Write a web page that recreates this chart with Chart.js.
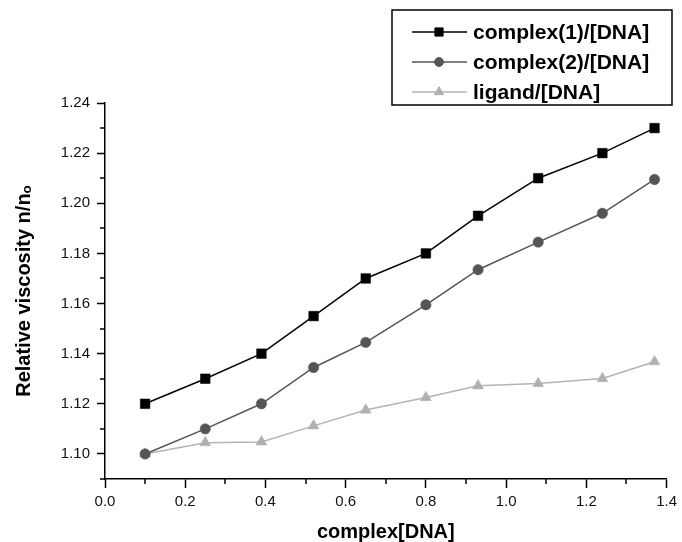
<!DOCTYPE html>
<html>
<head>
<meta charset="utf-8">
<script src="https://cdn.jsdelivr.net/npm/chart.js@4.4.1/dist/chart.umd.min.js"></script>
<style>
  html, body { margin: 0; padding: 0; background: #fff; }
  #wrap { width: 682px; height: 542px; }
</style>
</head>
<body>
<div id="wrap"><canvas id="myChart" width="682" height="542"></canvas></div>
<script>
// complex/[DNA] ratio (x axis)
const ratio = [0.10, 0.25, 0.39, 0.52, 0.65, 0.80, 0.93, 1.08, 1.24, 1.37];

// relative viscosity n/n0
const complex1 = [1.120, 1.130, 1.140, 1.155, 1.170, 1.180, 1.195, 1.210, 1.220, 1.230];
const complex2 = [1.100, 1.110, 1.120, 1.1345, 1.1445, 1.1595, 1.1735, 1.1845, 1.196, 1.2095];
const ligand = [1.100, 1.1045, 1.1048, 1.1112, 1.1175, 1.1225, 1.1272, 1.1281, 1.1301, 1.1368];

const seriesNames = ['complex(1)/[DNA]', 'complex(2)/[DNA]', 'ligand/[DNA]'];

const FONT = "'Liberation Sans', Arial, Helvetica, sans-serif";

function pts(ys) {
    return ratio.map((x, i) => ({ x: x, y: ys[i] }));
}

// y labels every 0.02, x labels every 0.2; the rest are minor ticks
const yMajor = v => Math.round(v * 100) % 2 === 0;
const xMajor = v => Math.round(v * 10) % 2 === 0;

const minorTicks = {
    id: 'minorTicks',
    afterDraw(chart) {
        const ctx = chart.ctx;
        const xs = chart.scales.x, ys = chart.scales.y;
        const area = chart.chartArea;
        ctx.save();
        ctx.strokeStyle = '#000';
        ctx.lineWidth = 1.5;
        ctx.beginPath();
        xs.ticks.forEach(t => {
            if (!xMajor(t.value)) {
                const px = Math.round(xs.getPixelForValue(t.value));
                ctx.moveTo(px, area.bottom);
                ctx.lineTo(px, area.bottom + 5);
            }
        });
        ys.ticks.forEach(t => {
            if (!yMajor(t.value)) {
                const py = Math.round(ys.getPixelForValue(t.value));
                ctx.moveTo(area.left, py);
                ctx.lineTo(area.left - 5, py);
            }
        });
        ctx.stroke();
        ctx.restore();
    }
};

// boxed legend with line + marker samples
const boxLegend = {
    id: 'boxLegend',
    afterDraw(chart) {
        const ctx = chart.ctx;
        const left = 392, top = 10, right = 672, bottom = 105;
        ctx.save();
        ctx.strokeStyle = '#000';
        ctx.lineWidth = 1.5;
        ctx.strokeRect(left, top, right - left, bottom - top);
        ctx.font = 'bold 21px ' + FONT;
        ctx.textBaseline = 'middle';
        ctx.textAlign = 'left';
        chart.data.datasets.forEach((ds, i) => {
            const y = 32 + i * 30;
            ctx.strokeStyle = ds.borderColor;
            ctx.lineWidth = ds.borderWidth;
            ctx.beginPath();
            ctx.moveTo(412, y);
            ctx.lineTo(467, y);
            ctx.stroke();
            ctx.fillStyle = ds.pointBackgroundColor;
            ctx.strokeStyle = ds.pointBorderColor;
            ctx.lineWidth = 1;
            Chart.helpers.drawPoint(ctx, {
                pointStyle: ds.pointStyle,
                radius: ds.pointRadius * 0.85,
                rotation: 0,
                borderWidth: 1
            }, 439, y);
            ctx.fillStyle = '#000';
            ctx.fillText(ds.label, 473, y + 1);
        });
        ctx.restore();
    }
};

new Chart(document.getElementById('myChart').getContext('2d'), {
    type: 'line',
    data: {
        datasets: [{
            label: seriesNames[0],
            data: pts(complex1),
            borderColor: '#000000',
            borderWidth: 1.5,
            pointStyle: 'rect',
            pointRadius: 6.8,
            pointBackgroundColor: '#000000',
            pointBorderColor: '#000000',
            pointBorderWidth: 0.5
        }, {
            label: seriesNames[1],
            data: pts(complex2),
            borderColor: '#555555',
            borderWidth: 1.5,
            pointStyle: 'circle',
            pointRadius: 5.2,
            pointBackgroundColor: '#555555',
            pointBorderColor: '#555555',
            pointBorderWidth: 0.5
        }, {
            label: seriesNames[2],
            data: pts(ligand),
            borderColor: '#b4b4b4',
            borderWidth: 1.5,
            pointStyle: 'triangle',
            pointRadius: 6.3,
            pointBackgroundColor: '#b0b0b0',
            pointBorderColor: '#b0b0b0',
            pointBorderWidth: 0.5
        }]
    },
    options: {
        responsive: false,
        animation: false,
        clip: false,
        layout: { padding: { left: 0, top: 103, right: 11, bottom: 0 } },
        plugins: {
            legend: { display: false },
            tooltip: { enabled: false }
        },
        scales: {
            x: {
                type: 'linear',
                min: 0,
                max: 1.4,
                afterFit(scale) { scale.height = 63; },
                border: { display: true, color: '#000', width: 1.5 },
                grid: {
                    drawOnChartArea: false,
                    drawTicks: true,
                    tickLength: 9,
                    tickWidth: 1.5,
                    tickColor: c => (c.tick && xMajor(c.tick.value)) ? '#000' : 'rgba(0,0,0,0)'
                },
                ticks: {
                    stepSize: 0.1,
                    autoSkip: false,
                    maxRotation: 0,
                    padding: 5,
                    color: '#111',
                    font: { family: FONT, size: 15 },
                    callback: v => xMajor(v) ? v.toFixed(1) : ''
                },
                title: {
                    display: true,
                    text: 'complex[DNA]',
                    color: '#000',
                    font: { family: FONT, size: 20, weight: 'bold', lineHeight: 1.0 },
                    padding: { top: 0, bottom: 0 }
                }
            },
            y: {
                type: 'linear',
                min: 1.09,
                max: 1.24,
                afterFit(scale) { scale.width = 105; },
                border: { display: true, color: '#000', width: 1.5 },
                grid: {
                    drawOnChartArea: false,
                    drawTicks: true,
                    tickLength: 8,
                    tickWidth: 1.5,
                    tickColor: c => (c.tick && yMajor(c.tick.value)) ? '#000' : 'rgba(0,0,0,0)'
                },
                ticks: {
                    stepSize: 0.01,
                    autoSkip: false,
                    padding: 7,
                    color: '#111',
                    font: { family: FONT, size: 15 },
                    callback: v => yMajor(v) ? v.toFixed(2) : ''
                },
                title: {
                    display: true,
                    text: 'Relative viscosity n/n\u2092',
                    color: '#000',
                    font: { family: FONT, size: 20, weight: 'bold', lineHeight: 1.2 },
                    padding: { top: 12, bottom: 0 }
                }
            }
        }
    },
    plugins: [minorTicks, boxLegend]
});
</script>
</body>
</html>
